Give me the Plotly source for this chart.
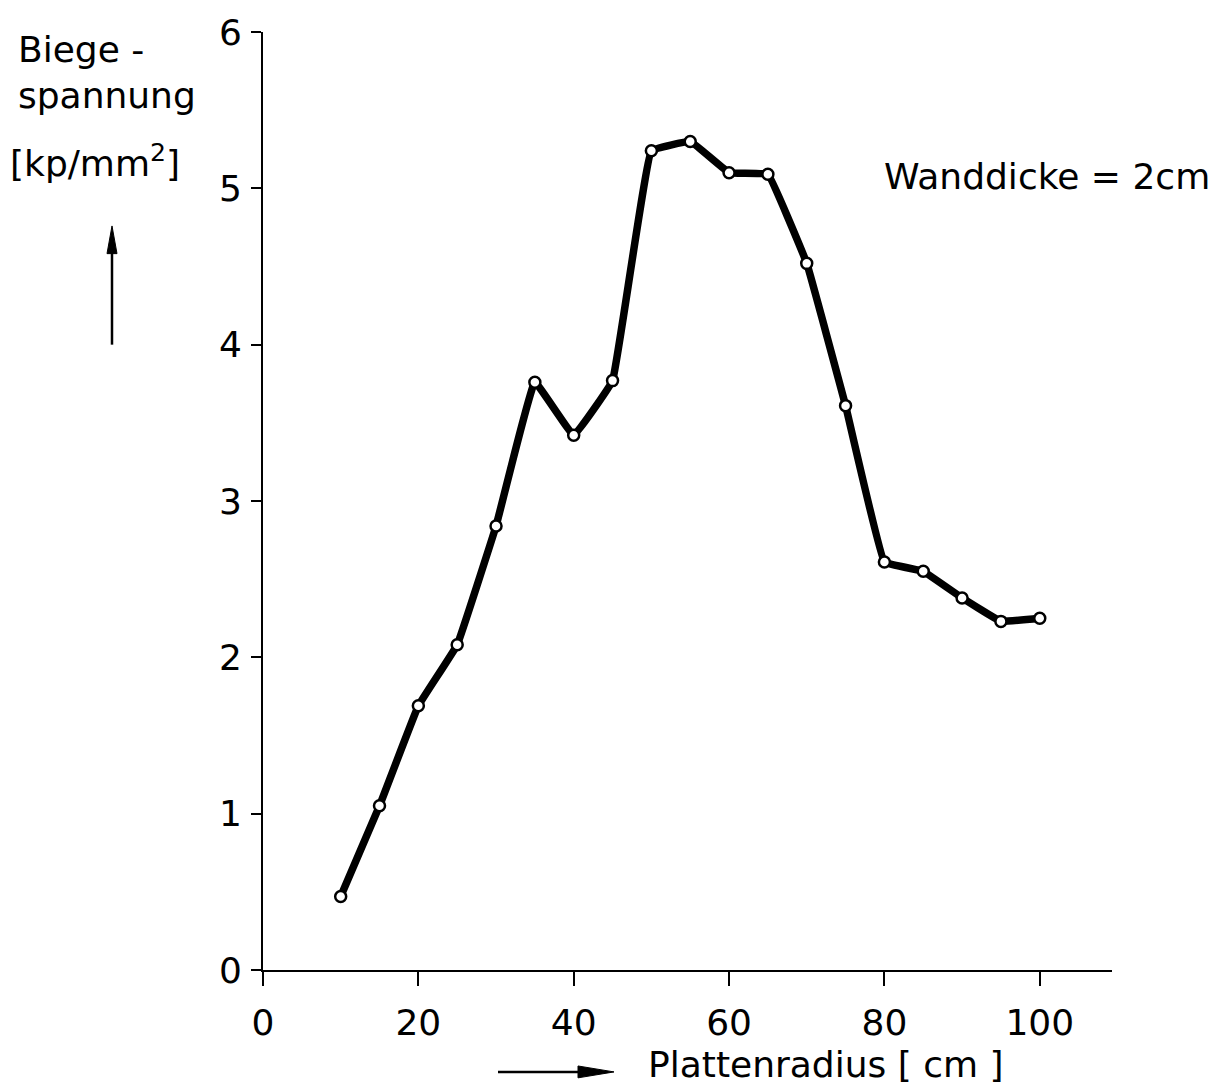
import plotly.graph_objects as go

radius_cm = [10, 15, 20, 25, 30, 35, 40, 45, 50, 55, 60, 65, 70, 75, 80, 85, 90, 95, 100]
stress = [0.47, 1.05, 1.69, 2.08, 2.84, 3.76, 3.42, 3.77, 5.24, 5.30, 5.10, 5.09, 4.52, 3.61, 2.61, 2.55, 2.38, 2.23, 2.25]
x_ticks = [0, 20, 40, 60, 80, 100]
y_ticks = [0, 1, 2, 3, 4, 5, 6]

FONT = "DejaVu Sans"
TICK_SIZE = 36
TEXT_SIZE = 36
L, R, T, B = 263, 102, 22, 118
W, H = 1214, 1088
PW, PH = W - L - R, H - T - B

def px(x):
    return (x - L) / PW

def py(y):
    return (H - B - y) / PH

fig = go.Figure()
fig.add_trace(go.Scatter(
    x=radius_cm, y=stress, mode="lines+markers",
    line=dict(color="black", width=7.5, shape="spline", smoothing=0.2),
    marker=dict(size=11, color="white", line=dict(color="black", width=2.5)),
    showlegend=False, cliponaxis=False,
))

fig.update_layout(
    width=W, height=H,
    margin=dict(l=L, r=R, t=T, b=B),
    paper_bgcolor="white", plot_bgcolor="white",
    font=dict(family=FONT, size=TEXT_SIZE, color="black"),
    xaxis=dict(range=[0, 109.3], tickvals=x_ticks, ticktext=[str(v) for v in x_ticks],
               showgrid=False, zeroline=False, showline=True, linecolor="black", linewidth=2,
               ticks="outside", ticklen=14, tickwidth=2, tickcolor="black",
               ticklabelstandoff=6,
               tickfont=dict(size=TICK_SIZE, family=FONT)),
    yaxis=dict(range=[0, 6], tickvals=y_ticks, ticktext=[str(v) for v in y_ticks],
               showgrid=False, zeroline=False, showline=True, linecolor="black", linewidth=2,
               ticks="outside", ticklen=10, tickwidth=2, tickcolor="black",
               ticklabelstandoff=2,
               tickfont=dict(size=TICK_SIZE, family=FONT)),
)

ann = [
    dict(text="Biege -", x=px(16), y=py(40), xanchor="left", yanchor="middle"),
    dict(text="spannung", x=px(16), y=py(86), xanchor="left", yanchor="middle"),
    dict(text="[kp/mm<sup>2</sup>]", x=px(8), y=py(152), xanchor="left", yanchor="middle"),
    dict(text="Wanddicke = 2cm", x=px(1212), y=py(168), xanchor="right", yanchor="middle"),
    dict(text="Plattenradius [ cm ]", x=px(646), y=py(1066), xanchor="left", yanchor="middle"),
]
for a in ann:
    fig.add_annotation(xref="paper", yref="paper", showarrow=False,
                       font=dict(size=TEXT_SIZE, family=FONT, color="black"), **a)

# axis direction arrows drawn as shapes (paper coordinates)
fig.add_shape(type="line", xref="paper", yref="paper",
              x0=px(112), y0=py(338), x1=px(112), y1=py(240),
              line=dict(color="black", width=2.5))
fig.add_shape(type="path", xref="paper", yref="paper",
              path=f"M {px(107)} {py(246)} L {px(112)} {py(218)} L {px(117)} {py(246)} Z",
              fillcolor="black", line=dict(color="black", width=1))
fig.add_shape(type="line", xref="paper", yref="paper",
              x0=px(498), y0=py(1073), x1=px(585), y1=py(1073),
              line=dict(color="black", width=2.5))
fig.add_shape(type="path", xref="paper", yref="paper",
              path=f"M {px(578)} {py(1067)} L {px(614)} {py(1073)} L {px(578)} {py(1079)} Z",
              fillcolor="black", line=dict(color="black", width=1))

fig.write_html("out.html")
